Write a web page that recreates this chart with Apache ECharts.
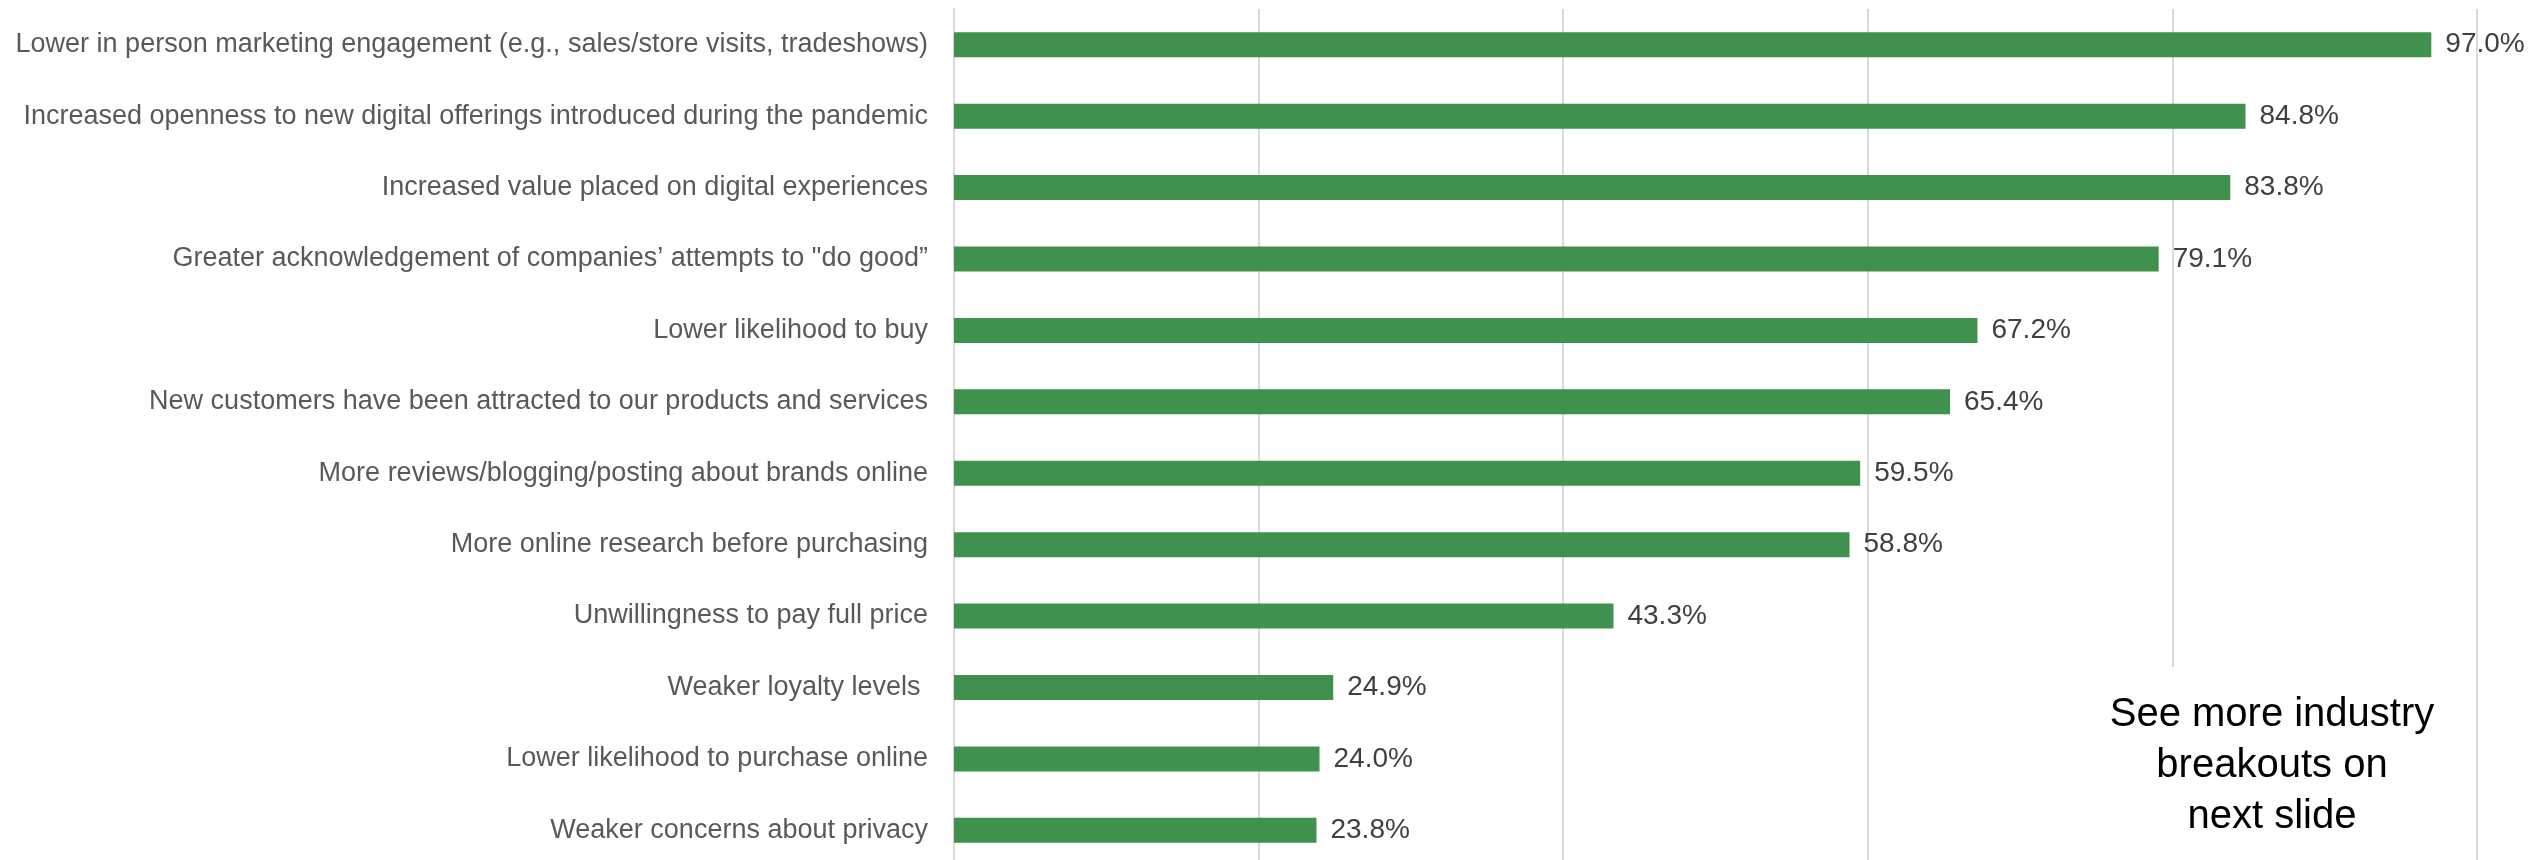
<!DOCTYPE html>
<html>
<head>
<meta charset="utf-8">
<script src="https://cdn.jsdelivr.net/npm/echarts@6/dist/echarts.min.js"></script>
<style>
html,body{margin:0;padding:0;background:#fff;}
#chart{width:2530px;height:860px;}
</style>
</head>
<body>
<div id="chart"></div>
<script>
const categories = [
  "Lower in person marketing engagement (e.g., sales/store visits, tradeshows)",
  "Increased openness to new digital offerings introduced during the pandemic",
  "Increased value placed on digital experiences",
  "Greater acknowledgement of companies\u2019 attempts to \"do good\u201d",
  "Lower likelihood to buy",
  "New customers have been attracted to our products and services",
  "More reviews/blogging/posting about brands online",
  "More online research before purchasing",
  "Unwillingness to pay full price",
  "Weaker loyalty levels ",
  "Lower likelihood to purchase online",
  "Weaker concerns about privacy"
];
const values = [97.0, 84.8, 83.8, 79.1, 67.2, 65.4, 59.5, 58.8, 43.3, 24.9, 24.0, 23.8];
const xTicks = [0, 20, 40, 60, 80, 100];
const noteLines = ["See more industry", "breakouts on", "next slide"];

const chart = echarts.init(document.getElementById('chart'));
chart.setOption({
  animation: false,
  backgroundColor: '#ffffff',
  grid: { left: 954, width: 1523, top: 9, height: 857, containLabel: false, outerBoundsMode: 'none' },
  xAxis: {
    type: 'value',
    min: xTicks[0],
    max: xTicks[xTicks.length - 1],
    interval: xTicks[1] - xTicks[0],
    axisLabel: { show: false },
    axisLine: { show: false },
    axisTick: { show: false },
    splitLine: { show: true, lineStyle: { color: '#d9d9d9', width: 2 } }
  },
  yAxis: {
    type: 'category',
    data: categories,
    inverse: true,
    axisLine: { show: true, lineStyle: { color: '#d9d9d9', width: 2 } },
    axisTick: { show: false },
    axisLabel: {
      margin: 26,
      color: '#595959',
      fontFamily: '"Liberation Sans", Arial, sans-serif',
      fontSize: 27
    }
  },
  series: [{
    type: 'bar',
    data: values,
    barWidth: 25,
    itemStyle: { color: '#40904e' },
    label: {
      show: true,
      position: 'right',
      distance: 14,
      color: '#404040',
      fontFamily: '"Liberation Sans", Arial, sans-serif',
      fontSize: 28,
      formatter: p => p.value.toFixed(1) + '%'
    }
  }],
  graphic: [
    {
      type: 'rect', z: 100,
      shape: { x: 2060, y: 667, width: 416, height: 200 },
      style: { fill: '#ffffff' }
    },
    {
      type: 'text', z: 101,
      x: 2272, y: 766,
      style: {
        text: noteLines.join('\n'),
        fill: '#000000',
        fontFamily: '"Liberation Sans", Arial, sans-serif',
        fontSize: 40,
        lineHeight: 51,
        align: 'center',
        verticalAlign: 'middle'
      }
    }
  ]
});
</script>
</body>
</html>
